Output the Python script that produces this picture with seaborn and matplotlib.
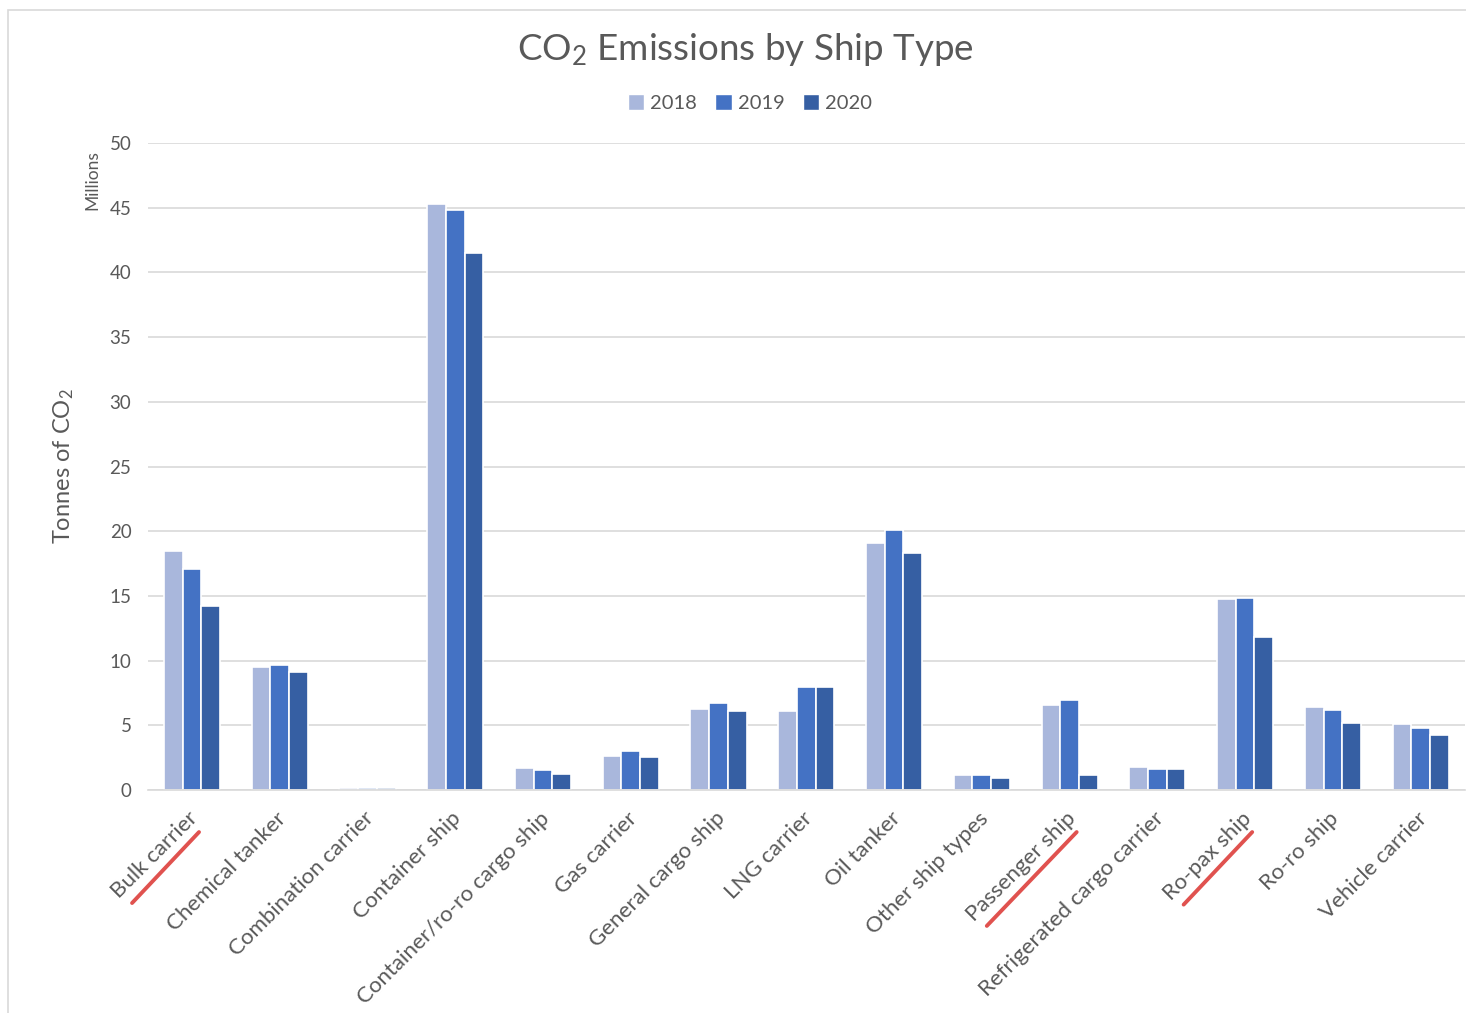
import pandas as pd
import seaborn as sns
import matplotlib.pyplot as plt
import matplotlib.transforms as mtransforms
from matplotlib.patches import Rectangle
from matplotlib.lines import Line2D

# data (millions of tonnes CO2)
ship_types = ['Bulk carrier', 'Chemical tanker', 'Combination carrier', 'Container ship',
              'Container/ro-ro cargo ship', 'Gas carrier', 'General cargo ship', 'LNG carrier',
              'Oil tanker', 'Other ship types', 'Passenger ship', 'Refrigerated cargo carrier',
              'Ro-pax ship', 'Ro-ro ship', 'Vehicle carrier']
years = ['2018', '2019', '2020']
em_2018 = [18.5, 9.5, 0.15, 45.3, 1.7, 2.6, 6.3, 6.1, 19.1, 1.15, 6.55, 1.8, 14.8, 6.4, 5.1]
em_2019 = [17.1, 9.65, 0.15, 44.8, 1.55, 3.05, 6.7, 8.0, 20.1, 1.2, 7.0, 1.6, 14.85, 6.2, 4.8]
em_2020 = [14.25, 9.1, 0.15, 41.5, 1.25, 2.55, 6.15, 8.0, 18.3, 0.9, 1.2, 1.6, 11.85, 5.15, 4.25]
bar_colors = ['#a9b7dc', '#4472c4', '#365fa3']
# labels underlined in red in the original
marked = ['Bulk carrier', 'Passenger ship', 'Ro-pax ship']

df = pd.DataFrame({
    'ship': ship_types * 3,
    'year': [y for y in years for _ in ship_types],
    'value': em_2018 + em_2019 + em_2020,
})

sns.set_theme(style='white')
plt.rcParams['font.family'] = ['Lato', 'DejaVu Sans']
plt.rcParams['mathtext.fontset'] = 'custom'
plt.rcParams['mathtext.rm'] = 'Lato'
plt.rcParams['mathtext.it'] = 'Lato'
text_col = '#595959'

fig = plt.figure(figsize=(14.66, 10.13), dpi=100)
ax = fig.add_axes([0.101, 0.22, 0.898, 0.6388])

sns.barplot(data=df, x='ship', y='value', hue='year', palette=bar_colors, saturation=1,
            width=0.64, edgecolor='white', linewidth=1.2, ax=ax, legend=False)

ax.set_ylim(0, 50)
ax.set_yticks(range(0, 51, 5))
ax.yaxis.grid(True, color='#d9d9d9', linewidth=1.2)
ax.set_axisbelow(True)
for s in ['left', 'right', 'top']:
    ax.spines[s].set_visible(False)
ax.spines['bottom'].set_color('#d9d9d9')
ax.spines['bottom'].set_linewidth(1.2)
ax.tick_params(axis='y', length=0, labelsize=13.5, labelcolor=text_col, pad=12)
ax.tick_params(axis='x', length=0, labelsize=16, labelcolor=text_col, pad=18)
ax.set_xlabel('')
ax.set_ylabel('Tonnes of CO$_2$', fontsize=17, color=text_col, labelpad=24)
shift = mtransforms.ScaledTranslation(3 / 100, 0, fig.dpi_scale_trans)
for lab in ax.get_xticklabels():
    lab.set_rotation(45)
    lab.set_ha('right')
    lab.set_va('center')
    lab.set_rotation_mode('anchor')
    lab.set_transform(lab.get_transform() + shift)

fig.text(92 / 1466, 1 - 180 / 1013, 'Millions', rotation=90, ha='center', va='center',
         fontsize=12.5, color=text_col)
fig.text(745 / 1466, 1 - 50 / 1013, 'CO$_2$ Emissions by Ship Type', ha='center',
         va='center', fontsize=26.5, color=text_col)

handles = [Rectangle((0, 0), 1, 1, facecolor=c, edgecolor='white') for c in bar_colors]
fig.legend(handles, years, loc='center', bbox_to_anchor=(750 / 1466, 1 - 103 / 1013),
           ncol=3, frameon=False, fontsize=14.5, labelcolor=text_col,
           handlelength=0.8, handleheight=0.8, handletextpad=0.3, columnspacing=0.9)

# chart border
fig.patches.append(Rectangle((8 / 1466, -0.02), 1.1, 1.02 - 10 / 1013, transform=fig.transFigure,
                             fill=False, edgecolor='#d9d9d9', linewidth=1.2))

# red underlines below the highlighted labels
fig.canvas.draw()
inv = fig.transFigure.inverted()
for lab in ax.get_xticklabels():
    if lab.get_text() in marked:
        bb = lab.get_window_extent()
        # shift the text diagonal down-right so the stroke sits under the words
        xa, ya = bb.x0 + 24, bb.y0 - 1
        xb, yb = bb.x1 - 3, bb.y1 - 24
        (x0, y0), (x1, y1) = inv.transform([(xa, ya), (xb, yb)])
        fig.lines.append(Line2D([x0, x1], [y0, y1], transform=fig.transFigure,
                                color='#e0524f', linewidth=2.8))

fig.savefig('out.png', dpi=100)
